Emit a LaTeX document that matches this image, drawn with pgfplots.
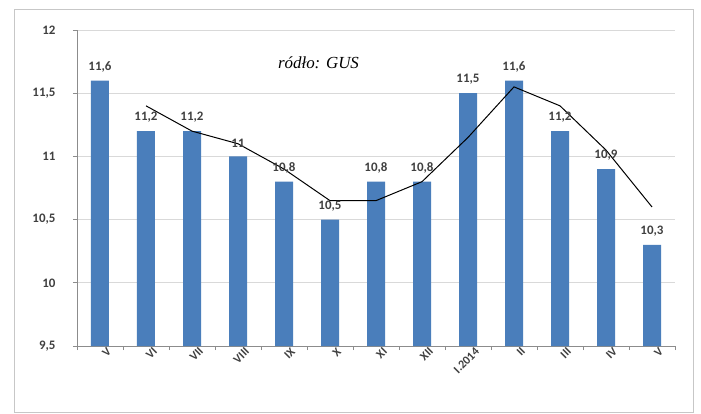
\documentclass[border=0pt]{standalone}
\usepackage{pgfplots}
\pgfplotsset{compat=1.18}
\usepackage{fontspec}
\setmainfont{Carlito}
\newfontfamily\titlefont{Liberation Serif}
\definecolor{barblue}{HTML}{4A7EBB}
\definecolor{txt}{HTML}{404040}
\definecolor{gridc}{HTML}{D9D9D9}
\definecolor{axc}{HTML}{8C8C8C}
\begin{document}
\begin{tikzpicture}
\useasboundingbox (-77bp,-68bp) rectangle (624bp,346bp);
\draw[color=gridc!80!gray, line width=0.8bp] (-63bp,-66bp) rectangle (616bp,337bp);
\begin{axis}[
  at={(0,0)}, anchor=south west,
  scale only axis, width=598bp, height=316bp,
  xmin=-0.5, xmax=12.5, ymin=9.5, ymax=12,
  ytick={9.5,10,...,12},
  xtick={-0.5,0.5,...,12.5},
  xticklabels={},
  extra x ticks={0,1,2,3,4,5,6,7,8,9,10,11,12},
  extra x tick labels={V,VI,VII,VIII,IX,X,XI,XII,I.2014,II,III,IV,V},
  extra x tick style={major tick length=0pt, grid=none,
    tick label style={rotate=45, anchor=north east, xshift=5bp, yshift=-4bp,
      font=\fontsize{12}{13}\selectfont\bfseries, text=txt, inner sep=1bp}},
  yticklabel style={font=\fontsize{13}{14}\selectfont\bfseries, text=txt},
  yticklabel shift=14bp,
  /pgf/number format/assume math mode=true,
  /pgf/number format/use comma,
  /pgf/number format/fixed,
  ymajorgrids, grid style={gridc, line width=0.8bp},
  axis x line*=bottom, axis y line*=left,
  axis line style={axc, line width=0.8bp},
  tick align=outside, major tick length=4bp,
  tick style={axc, line width=0.8bp},
  clip=false,
]
\addplot[ybar, bar width=18bp, fill=barblue, draw=none,
  nodes near coords,
  every node near coord/.append style={font=\fontsize{13}{14}\selectfont\bfseries, text=txt, yshift=5bp, /pgf/number format/use comma, /pgf/number format/fixed, /pgf/number format/assume math mode=true},
] coordinates {
(0,11.6) (1,11.2) (2,11.2) (3,11.0) (4,10.8) (5,10.5) (6,10.8) (7,10.8) (8,11.5) (9,11.6) (10,11.2) (11,10.9) (12,10.3)
};
\addplot[black, line width=1bp, mark=none] coordinates {
(1,11.4) (2,11.2) (3,11.1) (4,10.9) (5,10.65) (6,10.65) (7,10.8) (8,11.15) (9,11.55) (10,11.4) (11,11.05) (12,10.6)
};
\node[font=\titlefont\itshape\fontsize{17}{18}\selectfont] at (axis cs:4.75,11.74) {ródło: GUS};
\end{axis}
\end{tikzpicture}
\end{document}
